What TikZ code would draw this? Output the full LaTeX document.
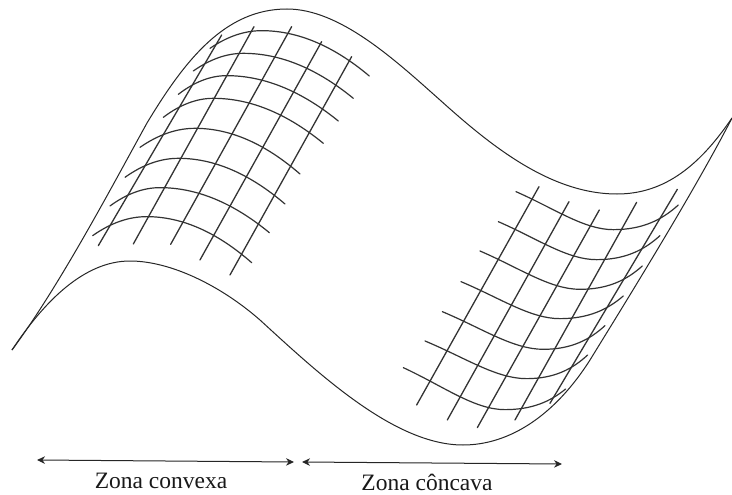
\documentclass[tikz,border=0pt]{standalone}
\usepackage{fontspec}
\setmainfont{Liberation Serif}
\usetikzlibrary{arrows.meta}
\tikzset{
  outline/.style={line width=1pt,draw=black!85,line join=round},
  gridline/.style={line width=1.3pt,draw=black!80,line cap=round},
  arcline/.style={line width=1.2pt,draw=black!80,line cap=round},
  zonearrow/.style={line width=1pt,draw=black!85,{Stealth[length=8pt,width=7.5pt]}-{Stealth[length=8pt,width=7.5pt]}},
  zonelabel/.style={font=\fontsize{23.5}{26}\selectfont,text=black!90,inner sep=0pt,anchor=base},
  zoomleft/.style={shift={(80,0)},x=.3333pt,y=-.3333pt},
  zoomright/.style={shift={(390,170)},x=.3333pt,y=-.3333pt}
}
% start, apex, end: left-hand arcs (crest)
\newcommand\crestarc[6]{\draw[arcline] (#1,#2)
  .. controls ({#1+(#3-#1)/3},{#2+2*(#4-#2)/3}) and ({#3-(#3-#1)/3},#4) .. (#3,#4)
  .. controls ({#3+(#5-#3)/3},#4) and ({#5-(#5-#3)/3},{#6-2*(#6-#4)/3}) .. (#5,#6);}
% start, apex, end: right-hand arcs (trough)
\newcommand\trougharc[6]{\draw[arcline] (#1,#2)
  .. controls ({#1+.4*(#3-#1)},{#2+.45*(#4-#2)}) and ({#3-.3*(#3-#1)},#4) .. (#3,#4)
  .. controls ({#3+.45*(#5-#3)},#4) and ({#3+.75*(#5-#3)},{#4+.4*(#6-#4)}) .. (#5,#6);}
\begin{document}
\begin{tikzpicture}[x=1pt,y=-1pt]
\useasboundingbox (0,0) rectangle (732,495);
\fill[white] (0,0) rectangle (732,495);
% surface outline
\draw[outline] (12,350) .. controls (60,285) and (110,190) .. (147,123)
  .. controls (185,60) and (225,9) .. (287,9)
  .. controls (340,9) and (395,60) .. (440,100)
  .. controls (490,145) and (550,194) .. (617,194)
  .. controls (665,194) and (700,165) .. (732,118);
\draw[outline] (12,350) .. controls (45,300) and (85,261) .. (130,261)
  .. controls (170,261) and (220,285) .. (260,320)
  .. controls (320,375) and (395,445) .. (463,445)
  .. controls (510,445) and (555,415) .. (590,360)
  .. controls (630,295) and (695,190) .. (732,118);
% left grid
\begin{scope}[zoomleft]
\draw[gridline] (55,737) -- (425,105);
\draw[gridline] (160,732) -- (522,80);
\draw[gridline] (272,733) -- (635,80);
\draw[gridline] (360,780) -- (725,125);
\draw[gridline] (450,825) -- (815,170);
\crestarc{390}{145}{545}{92}{868}{228}
\crestarc{340}{213}{490}{160}{820}{295}
\crestarc{295}{283}{440}{227}{775}{363}
\crestarc{250}{352}{400}{295}{730}{430}
\crestarc{180}{442}{345}{385}{660}{522}
\crestarc{135}{532}{295}{475}{615}{612}
\crestarc{90}{618}{240}{563}{568}{698}
\crestarc{38}{707}{200}{650}{515}{788}
\end{scope}
% right grid
\begin{scope}[zoomright]
\draw[gridline] (80,705) -- (447,50);
\draw[gridline] (172,750) -- (537,95);
\draw[gridline] (262,773) -- (628,120);
\draw[gridline] (375,750) -- (740,97);
\draw[gridline] (480,700) -- (862,58);
\trougharc{378}{65}{670}{179}{865}{105}
\trougharc{325}{155}{620}{269}{810}{197}
\trougharc{270}{243}{570}{358}{757}{288}
\trougharc{213}{335}{510}{446}{700}{378}
\trougharc{157}{425}{460}{538}{645}{467}
\trougharc{105}{513}{410}{626}{593}{555}
\trougharc{40}{593}{345}{719}{527}{657}
\end{scope}
% zone arrows and labels
\coordinate (convexL) at (37,460);
\coordinate (convexR) at (294,462);
\coordinate (concavL) at (302,462);
\coordinate (concavR) at (562,464);
\draw[zonearrow] (convexL) -- (convexR);
\draw[zonearrow] (concavL) -- (concavR);
\node[zonelabel] (convexa) at (161,488) {Zona convexa};
\node[zonelabel] (concava) at (427,490) {Zona côncava};
\end{tikzpicture}
\end{document}
